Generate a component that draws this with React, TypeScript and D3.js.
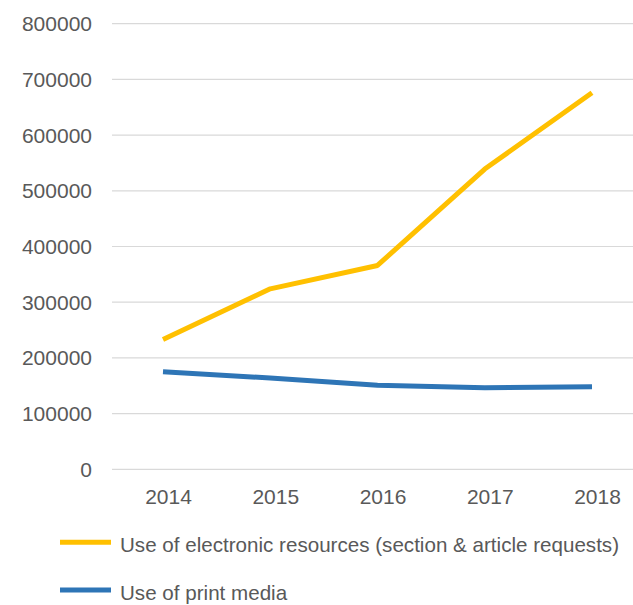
import React from "react";
import * as d3 from "d3";

const years = ["2014", "2015", "2016", "2017", "2018"];
const electronic = [233000, 324000, 366000, 539000, 676000];
const printMedia = [175000, 164000, 151000, 146500, 148000];
const yTicks = [0, 100000, 200000, 300000, 400000, 500000, 600000, 700000, 800000];
const seriesNames = ["Use of electronic resources (section & article requests)", "Use of print media"];
const seriesColors = ["#FFC000", "#2E75B6"];

const W = 633;
const H = 605;
const FONT = "'Liberation Sans', Arial, sans-serif";
const TEXT = "#595959";

export default function App() {
  const x = d3.scalePoint<string>().domain(years).range([163, 592]);
  const y = d3.scaleLinear().domain([0, 800000]).range([469.3, 23.7]);
  const line = d3
    .line<number>()
    .x((_, i) => x(years[i]) as number)
    .y((d) => y(d));
  const series = [electronic, printMedia];

  return (
    <svg
      width={W}
      height={H}
      style={{ position: "absolute", left: 0, top: 0, background: "#fff" }}
    >
      {yTicks.map((t) => (
        <g key={t}>
          <line x1={112} x2={633} y1={y(t)} y2={y(t)} stroke="#d9d9d9" strokeWidth={1.2} />
          <text
            x={92}
            y={y(t)}
            textAnchor="end"
            dominantBaseline="central"
            fontFamily={FONT}
            fontSize={21}
            fill={TEXT}
          >
            {t}
          </text>
        </g>
      ))}
      {years.map((yr) => (
        <text
          key={yr}
          x={(x(yr) as number) + 5.5}
          y={504}
          textAnchor="middle"
          fontFamily={FONT}
          fontSize={21}
          fill={TEXT}
        >
          {yr}
        </text>
      ))}
      {series.map((s, i) => (
        <path
          key={i}
          d={line(s) || ""}
          fill="none"
          stroke={seriesColors[i]}
          strokeWidth={5}
          strokeLinejoin="round"
        />
      ))}
      {seriesNames.map((n, i) => (
        <g key={n}>
          <line
            x1={60}
            x2={111}
            y1={542.3 + i * 47.7}
            y2={542.3 + i * 47.7}
            stroke={seriesColors[i]}
            strokeWidth={5}
          />
          <text
            x={120}
            y={552.3 + i * 47.7}
            fontFamily={FONT}
            fontSize={20.6}
            fill={TEXT}
          >
            {n}
          </text>
        </g>
      ))}
    </svg>
  );
}
